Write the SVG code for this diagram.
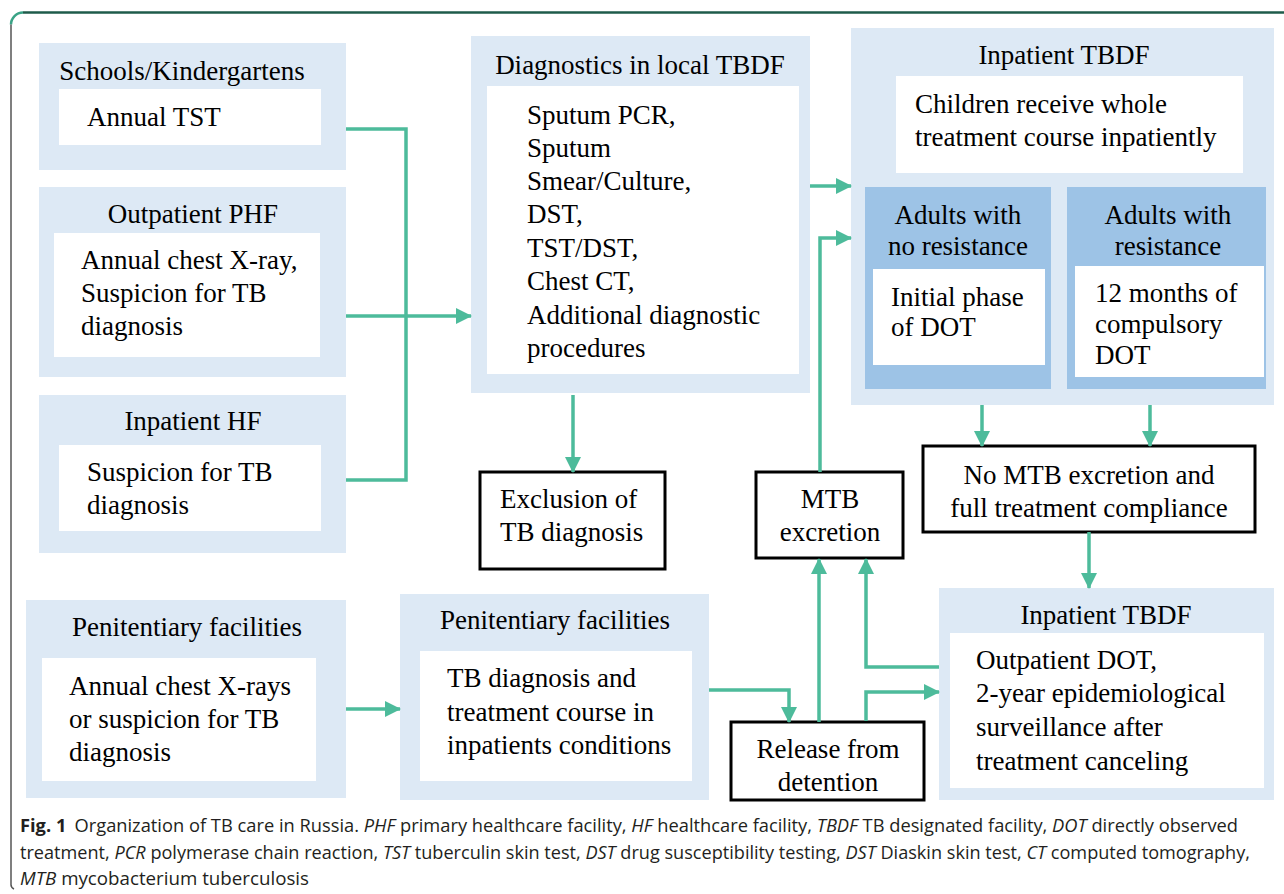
<svg xmlns="http://www.w3.org/2000/svg" width="1284" height="894" viewBox="0 0 1284 894">
<style>
.outer{fill:#dde9f5}
.inner{fill:#ffffff}
.mid{fill:#9dc3e6}
.box{fill:#ffffff;stroke:#000;stroke-width:3}
.t{font-family:"Liberation Serif","Times New Roman",serif;font-size:27px;fill:#000}
.c{text-anchor:middle}
.conn path{fill:none;stroke:#4dbb9b;stroke-width:3.5}
.cap{font-family:"Open Sans","Noto Sans",sans-serif;font-size:18px;fill:#231f20}
</style>
<defs>
<marker id="ah" markerUnits="userSpaceOnUse" markerWidth="16" markerHeight="16" refX="15" refY="8" orient="auto">
<path d="M0,0 L16,8 L0,16 z" fill="#4dbb9b"/>
</marker>
</defs>
<rect width="1284" height="894" fill="#fff"/>
<g id="frame" fill="none">
<path d="M1284,12.5 H23" stroke="#1e5b4a" stroke-width="2.5"/>
<path d="M23,12.5 A12,12 0 0 0 11,24.5" stroke="#3aa386" stroke-width="2.5"/>
<path d="M11,24.5 V884 A5,5 0 0 0 14,889" stroke="#555" stroke-width="1.5"/>
</g>

<g id="schools">
<rect class="outer" x="39" y="43" width="307" height="127"/>
<rect class="inner" x="59" y="89" width="262" height="56"/>
<text class="t c" x="182" y="80">Schools/Kindergartens</text>
<text class="t" x="87" y="126">Annual TST</text>
</g>

<g id="outpatient-phf">
<rect class="outer" x="39" y="187" width="307" height="190"/>
<rect class="inner" x="54" y="233" width="266" height="124"/>
<text class="t c" x="193" y="223">Outpatient PHF</text>
<text class="t" x="81" y="269">Annual chest X-ray,</text>
<text class="t" x="81" y="302">Suspicion for TB</text>
<text class="t" x="81" y="335">diagnosis</text>
</g>

<g id="inpatient-hf">
<rect class="outer" x="39" y="395" width="307" height="158"/>
<rect class="inner" x="59" y="445" width="262" height="86"/>
<text class="t c" x="193" y="430">Inpatient HF</text>
<text class="t" x="87" y="481">Suspicion for TB</text>
<text class="t" x="87" y="514">diagnosis</text>
</g>

<g id="diagnostics">
<rect class="outer" x="471" y="36" width="339" height="357"/>
<rect class="inner" x="487" y="86" width="312" height="288"/>
<text class="t c" x="640" y="74">Diagnostics in local TBDF</text>
<text class="t" x="527" y="124">Sputum PCR,</text>
<text class="t" x="527" y="157">Sputum</text>
<text class="t" x="527" y="190">Smear/Culture,</text>
<text class="t" x="527" y="223">DST,</text>
<text class="t" x="527" y="257">TST/DST,</text>
<text class="t" x="527" y="290">Chest CT,</text>
<text class="t" x="527" y="324">Additional diagnostic</text>
<text class="t" x="527" y="357">procedures</text>
</g>

<g id="exclusion">
<rect class="box" x="480" y="472" width="185" height="97"/>
<text class="t" x="500" y="508">Exclusion of</text>
<text class="t" x="500" y="541">TB diagnosis</text>
</g>

<g id="inpatient-tbdf-top">
<rect class="outer" x="851" y="28" width="423" height="377"/>
<rect class="inner" x="896" y="76" width="347" height="97"/>
<text class="t c" x="1064" y="64">Inpatient TBDF</text>
<text class="t" x="915" y="113">Children receive whole</text>
<text class="t" x="915" y="146">treatment course inpatiently</text>
</g>

<g id="adults-no-resistance">
<rect class="mid" x="865" y="187" width="186" height="202"/>
<rect class="inner" x="873" y="269" width="172" height="96"/>
<text class="t c" x="958" y="224">Adults with</text>
<text class="t c" x="958" y="255">no resistance</text>
<text class="t" x="891" y="306">Initial phase</text>
<text class="t" x="891" y="336">of DOT</text>
</g>

<g id="adults-resistance">
<rect class="mid" x="1067" y="187" width="199" height="202"/>
<rect class="inner" x="1075" y="266" width="189" height="111"/>
<text class="t c" x="1168" y="224">Adults with</text>
<text class="t c" x="1168" y="255">resistance</text>
<text class="t" x="1095" y="302">12 months of</text>
<text class="t" x="1095" y="333">compulsory</text>
<text class="t" x="1095" y="364">DOT</text>
</g>

<g id="no-mtb">
<rect class="box" x="923" y="446" width="332" height="86"/>
<text class="t c" x="1089" y="484">No MTB excretion and</text>
<text class="t c" x="1089" y="517">full treatment compliance</text>
</g>

<g id="mtb-excretion">
<rect class="box" x="756" y="472" width="147" height="86"/>
<text class="t c" x="830" y="508">MTB</text>
<text class="t c" x="830" y="541">excretion</text>
</g>

<g id="inpatient-tbdf-bottom">
<rect class="outer" x="939" y="588" width="335" height="212"/>
<rect class="inner" x="950" y="633" width="314" height="155"/>
<text class="t c" x="1106" y="624">Inpatient TBDF</text>
<text class="t" x="976" y="669">Outpatient DOT,</text>
<text class="t" x="976" y="702">2-year epidemiological</text>
<text class="t" x="976" y="736">surveillance after</text>
<text class="t" x="976" y="770">treatment canceling</text>
</g>

<g id="penitentiary-left">
<rect class="outer" x="26" y="600" width="320" height="198"/>
<rect class="inner" x="42" y="658" width="274" height="123"/>
<text class="t c" x="187" y="636">Penitentiary facilities</text>
<text class="t" x="69" y="695">Annual chest X-rays</text>
<text class="t" x="69" y="728">or suspicion for TB</text>
<text class="t" x="69" y="761">diagnosis</text>
</g>

<g id="penitentiary-mid">
<rect class="outer" x="400" y="594" width="309" height="206"/>
<rect class="inner" x="420" y="651" width="272" height="130"/>
<text class="t c" x="555" y="629">Penitentiary facilities</text>
<text class="t" x="447" y="687">TB diagnosis and</text>
<text class="t" x="447" y="721">treatment course in</text>
<text class="t" x="447" y="754">inpatients conditions</text>
</g>

<g id="release">
<rect class="box" x="731" y="722" width="193" height="78"/>
<text class="t c" x="828" y="758">Release from</text>
<text class="t c" x="828" y="791">detention</text>
</g>

<g id="connectors" class="conn">
<path d="M346,129 H406 V480 H346"/>
<path d="M346,316 H471" marker-end="url(#ah)"/>
<path d="M573,395 V472" marker-end="url(#ah)"/>
<path d="M810,186 H851" marker-end="url(#ah)"/>
<path d="M820,472 V238 H851" marker-end="url(#ah)"/>
<path d="M982,405 V446" marker-end="url(#ah)"/>
<path d="M1150,405 V446" marker-end="url(#ah)"/>
<path d="M1089,532 V588" marker-end="url(#ah)"/>
<path d="M346,709 H400" marker-end="url(#ah)"/>
<path d="M709,690 H789 V722" marker-end="url(#ah)"/>
<path d="M819,722 V559" marker-end="url(#ah)"/>
<path d="M939,667 H866 V559" marker-end="url(#ah)"/>
<path d="M866,721 V692 H939" marker-end="url(#ah)"/>
</g>

<g id="caption" class="cap">
<text x="20" y="832" textLength="1218" lengthAdjust="spacingAndGlyphs"><tspan font-weight="bold">Fig. 1</tspan><tspan dx="8">Organization of TB care in Russia. </tspan><tspan font-style="italic">PHF</tspan> primary healthcare facility, <tspan font-style="italic">HF</tspan> healthcare facility, <tspan font-style="italic">TBDF</tspan> TB designated facility, <tspan font-style="italic">DOT</tspan> directly observed</text>
<text x="20" y="859" textLength="1230" lengthAdjust="spacingAndGlyphs">treatment, <tspan font-style="italic">PCR</tspan> polymerase chain reaction, <tspan font-style="italic">TST</tspan> tuberculin skin test, <tspan font-style="italic">DST</tspan> drug susceptibility testing, <tspan font-style="italic">DST</tspan> Diaskin skin test, <tspan font-style="italic">CT</tspan> computed tomography,</text>
<text x="20" y="885" textLength="289" lengthAdjust="spacingAndGlyphs"><tspan font-style="italic">MTB</tspan> mycobacterium tuberculosis</text>
</g>
</svg>
